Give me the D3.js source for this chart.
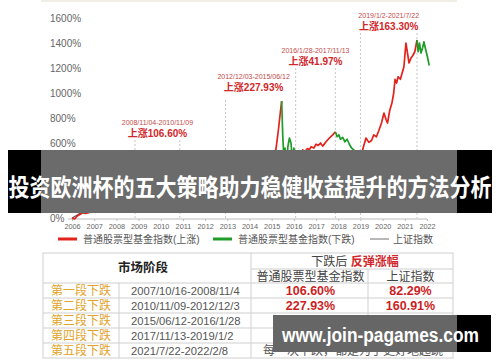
<!DOCTYPE html>
<html>
<head>
<meta charset="utf-8">
<script src="https://cdn.jsdelivr.net/npm/d3@7"></script>
<style>
  body { margin: 0; background: #fff; }
  svg { display: block; font-family: "Liberation Sans", "Noto Sans CJK SC", sans-serif; }
</style>
</head>
<body>
<div id="chart"></div>
<script>
// x tick labels and y ticks
const yearTicks = [2006, 2007, 2008, 2009, 2010, 2011, 2012, 2013, 2014, 2015, 2016, 2017, 2018, 2019, 2020, 2021, 2022];
const pctTicks = [0, 200, 400, 600, 800, 1000, 1200, 1400, 1600];

// 普通股票型基金指数, cumulative % since 2006
const fundDates = [2006.00, 2006.12, 2006.25, 2006.38, 2006.5, 2006.62, 2006.75, 2006.88, 2007.0, 2007.12, 2007.25, 2007.38, 2007.5, 2007.62, 2007.7, 2007.79,
  2007.86, 2007.93, 2008.0, 2008.1, 2008.2, 2008.3, 2008.42, 2008.55, 2008.65, 2008.75, 2008.84,
  2008.95, 2009.05, 2009.15, 2009.3, 2009.45, 2009.58, 2009.65, 2009.75, 2009.88, 2010.0, 2010.15, 2010.3, 2010.45, 2010.58, 2010.7, 2010.86,
  2010.95, 2011.05, 2011.2, 2011.35, 2011.5, 2011.62, 2011.75, 2011.88, 2012.0, 2012.15, 2012.3, 2012.45, 2012.6, 2012.75, 2012.92,
  2013.05, 2013.15, 2013.3, 2013.45, 2013.6, 2013.75, 2013.9, 2014.0, 2014.15, 2014.3, 2014.45, 2014.6, 2014.75, 2014.88, 2015.0, 2015.1, 2015.2, 2015.3, 2015.38, 2015.45,
  2015.5, 2015.55, 2015.6, 2015.66, 2015.73, 2015.8, 2015.87, 2015.93, 2016.0, 2016.08,
  2016.2, 2016.3, 2016.4, 2016.5, 2016.6, 2016.7, 2016.78, 2016.9, 2017.0, 2017.1, 2017.2, 2017.3, 2017.45, 2017.6, 2017.75, 2017.87,
  2017.95, 2018.03, 2018.1, 2018.2, 2018.3, 2018.4, 2018.5, 2018.6, 2018.7, 2018.8, 2018.87, 2018.93, 2019.0,
  2019.12, 2019.25, 2019.38, 2019.5, 2019.6, 2019.72, 2019.83, 2019.95, 2020.06, 2020.15, 2020.22, 2020.32, 2020.42, 2020.5, 2020.56, 2020.63, 2020.7, 2020.8, 2020.88, 2020.96, 2021.05, 2021.12, 2021.19, 2021.28, 2021.36, 2021.45, 2021.55,
  2021.6, 2021.66, 2021.73, 2021.8, 2021.86, 2021.95, 2022.02, 2022.1];
const fundValues = [0, -8, 18, 30, 48, 36, 42, 58, 80, 110, 140, 190, 250, 320, 380, 440,
  370, 420, 360, 330, 290, 300, 230, 190, 160, 150, 110,
  130, 150, 190, 230, 280, 320, 270, 280, 300, 290, 270, 240, 230, 260, 300, 345,
  310, 320, 335, 310, 300, 280, 250, 230, 215, 245, 250, 235, 215, 205, 195,
  240, 255, 240, 225, 260, 290, 275, 270, 260, 270, 265, 295, 320, 360, 420, 470, 560, 700, 830, 935,
  650, 480, 560, 420, 570, 640, 600, 470, 560, 460,
  505, 490, 545, 530, 555, 548, 570, 560, 590, 580, 600, 575, 610, 640, 665, 690,
  650, 665, 630, 645, 610, 630, 590, 560, 545, 490, 520, 465, 460,
  560, 640, 605, 620, 665, 650, 700, 760, 840, 790, 760, 860, 920, 1000, 1110, 1080, 1130, 1110, 1160, 1210, 1400, 1320, 1240, 1280, 1300, 1330, 1424,
  1330, 1400, 1320, 1360, 1410, 1340, 1290, 1220];
// rise / fall turning points (rise first)
const turnDates = [2007.79, 2008.84, 2010.86, 2012.92, 2015.45, 2016.08, 2017.87, 2019.0, 2021.55];

// 上证指数, cumulative % since 2006
const shDates = [2006.0, 2006.2, 2006.4, 2006.6, 2006.75, 2006.9, 2007.0, 2007.15, 2007.3, 2007.45, 2007.55, 2007.7, 2007.79, 2007.9, 2008.05, 2008.2, 2008.35, 2008.5, 2008.65, 2008.8, 2008.95,
  2009.1, 2009.3, 2009.55, 2009.65, 2009.9, 2010.1, 2010.35, 2010.5, 2010.7, 2010.86, 2011.0, 2011.3, 2011.5, 2011.7, 2011.95, 2012.2, 2012.45, 2012.7, 2012.92,
  2013.1, 2013.45, 2013.7, 2014.0, 2014.4, 2014.6, 2014.8, 2014.95, 2015.2, 2015.45, 2015.55, 2015.65, 2015.85, 2016.0, 2016.1, 2016.4, 2016.7, 2016.95,
  2017.3, 2017.5, 2017.87, 2018.05, 2018.2, 2018.45, 2018.7, 2018.9, 2019.0, 2019.25, 2019.4, 2019.7, 2020.0, 2020.2, 2020.45, 2020.55, 2020.9, 2021.1, 2021.3, 2021.55, 2021.8, 2022.1];
const shValues = [0, 20, 41, 38, 55, 81, 130, 170, 204, 253, 236, 378, 425, 319, 277, 199, 218, 136, 98, 48, 57,
  79, 114, 193, 133, 182, 163, 124, 107, 128, 163, 141, 158, 137, 107, 89, 108, 98, 77, 69,
  103, 72, 89, 77, 76, 91, 108, 178, 223, 345, 219, 176, 206, 158, 133, 150, 163, 167,
  171, 180, 193, 206, 171, 145, 139, 123, 112, 176, 145, 154, 163, 137, 154, 193, 193, 210, 197, 207, 206, 197];

// annotations
const annFrom = [2008.84, 2012.92, 2016.08, 2019.0];
const annTo = [2010.86, 2015.45, 2017.87, 2021.55];
const annRange = ["2008/11/04-2010/11/09", "2012/12/03-2015/06/12", "2016/1/28-2017/11/13", "2019/1/2-2021/7/22"];
const annGain = ["上涨106.60%", "上涨227.93%", "上涨41.97%", "上涨163.30%"];
const annLevel = [680, 1048, 1256, 1536];
const guideDates = [2008.84, 2010.86, 2012.92, 2016.08, 2017.87, 2019.0, 2021.55];
const guideLevel = [680, 680, 1000, 1256, 1256, 1536, 1536];

const legendLabels = ["普通股票型基金指数(上涨)", "普通股票型基金指数(下跌)", "上证指数"];

// table
const stageNames = ["第一段下跌", "第二段下跌", "第三段下跌", "第四段下跌", "第五段下跌"];
const stageDates = ["2007/10/16-2008/11/4", "2010/11/09-2012/12/3", "2015/06/12-2016/1/28", "2017/11/13-2019/1/2", "2021/7/22-2022/2/8"];
const fundRebound = ["106.60%", "227.93%", "41.97%", "163.30%"];
const shRebound = ["82.29%", "160.91%", "26.04%", "45.06%"];
const lastNote = "每一次下跌，都是为了更好地起跳";

const title = "投资欧洲杯的五大策略助力稳健收益提升的方法分析";
const watermark = "www.join-pagames.com";

const width = 500, height = 362;
const RED = "#e3221c", GREEN = "#1f9c28", GRAY = "#585858";

const x = d3.scaleLinear().domain([2006, 2022]).range([72, 427]);
const y = d3.scaleLinear().domain([0, 1600]).range([218, 18]);

const svg = d3.select("#chart").append("svg")
    .attr("width", width)
    .attr("height", height)
    .attr("viewBox", [0, 0, width, height]);

svg.append("rect").attr("width", width).attr("height", height).attr("fill", "#fff");
svg.append("rect").attr("x", 41).attr("width", 416).attr("height", 2).attr("fill", "#efede6");

// axes
svg.append("g")
    .attr("transform", `translate(50,0)`)
    .call(d3.axisLeft(y).tickValues(pctTicks).tickSize(0).tickFormat(d => d + "%"))
    .call(g => g.select(".domain").remove())
    .call(g => g.selectAll("text")
        .attr("x", 0)
        .attr("text-anchor", "start")
        .attr("fill", "#666")
        .attr("font-size", 10)
        .attr("font-family", "Liberation Sans, sans-serif"));

svg.append("g")
    .attr("transform", `translate(0,${y(0) + 1})`)
    .call(d3.axisBottom(x).tickValues(yearTicks).tickSize(2).tickPadding(3).tickFormat(d3.format("d")))
    .call(g => g.select(".domain").attr("stroke", "#bbb").attr("d", `M${x(2006) - 4},0H${x(2022)}`))
    .call(g => g.selectAll(".tick line").attr("stroke", "#bbb"))
    .call(g => g.selectAll("text")
        .attr("fill", "#666")
        .attr("font-size", 7.3)
        .attr("font-family", "Liberation Sans, sans-serif"));

// guide lines
svg.append("g")
    .selectAll("line")
    .data(guideDates)
    .join("line")
      .attr("x1", d => x(d))
      .attr("x2", d => x(d))
      .attr("y1", (d, i) => y(guideLevel[i]) + 7)
      .attr("y2", y(0))
      .attr("stroke", "#b8b8b8")
      .attr("stroke-width", 0.8)
      .attr("stroke-dasharray", "2,2");

// lines
const line = d3.line().x(d => x(d[0])).y(d => y(d[1]));

const shPoints = shDates.map((t, i) => [t, shValues[i]]);
svg.append("path")
    .datum(shPoints)
    .attr("fill", "none")
    .attr("stroke", GRAY)
    .attr("stroke-width", 1.3)
    .attr("stroke-linejoin", "round")
    .attr("d", line);

const fundPoints = fundDates.map((t, i) => [t, fundValues[i]]);
const bounds = [fundDates[0], ...turnDates, fundDates[fundDates.length - 1]];
const segments = d3.range(bounds.length - 1).map(k =>
  fundPoints.filter(p => p[0] >= bounds[k] && p[0] <= bounds[k + 1]));

svg.append("g")
    .selectAll("path")
    .data(segments)
    .join("path")
      .attr("fill", "none")
      .attr("stroke", (d, k) => k % 2 === 0 ? RED : GREEN)
      .attr("stroke-width", 1.7)
      .attr("stroke-linejoin", "round")
      .attr("d", line);

// annotations
const ann = svg.append("g").attr("text-anchor", "middle");
annRange.forEach((r, i) => {
  const cx = (x(annFrom[i]) + x(annTo[i])) / 2;
  ann.append("text")
      .attr("x", cx)
      .attr("y", y(annLevel[i]) - 11)
      .attr("dominant-baseline", "central")
      .attr("font-size", 7)
      .attr("fill", "#c34a48")
      .text(r);
  ann.append("text")
      .attr("x", cx)
      .attr("y", y(annLevel[i]))
      .attr("dominant-baseline", "central")
      .attr("font-size", 10)
      .attr("font-weight", "bold")
      .attr("fill", "#d1262a")
      .text(annGain[i]);
});

// legend
const legendX = [58, 213, 370];
const legendColors = [RED, GREEN, "#a0a0a0"];
const legend = svg.append("g")
    .selectAll("g")
    .data(legendLabels)
    .join("g")
      .attr("transform", (d, i) => `translate(${legendX[i]},239)`);
legend.append("line")
    .attr("x2", 19)
    .attr("stroke", (d, i) => legendColors[i])
    .attr("stroke-width", (d, i) => i === 2 ? 1.5 : 3);
legend.append("text")
    .attr("x", (d, i) => i === 2 ? 23 : 25)
    .attr("dominant-baseline", "central")
    .attr("font-size", 10)
    .attr("fill", "#555")
    .text(d => d);

// table
const cols = [43, 119, 251, 368, 453];
const tableTop = 253, tableMid = 269, headBottom = 283, rowH = 15;
const tableBottom = headBottom + rowH * stageNames.length;
const rowY = i => headBottom + rowH * i;
const table = svg.append("g").attr("stroke", "#cfcfcf").attr("stroke-width", 1);

table.append("rect").attr("x", cols[0]).attr("y", tableTop)
    .attr("width", cols[4] - cols[0]).attr("height", tableBottom - tableTop).attr("fill", "none");
table.append("line").attr("x1", cols[1]).attr("x2", cols[1]).attr("y1", headBottom).attr("y2", tableBottom);
table.append("line").attr("x1", cols[2]).attr("x2", cols[2]).attr("y1", tableTop).attr("y2", tableBottom);
table.append("line").attr("x1", cols[3]).attr("x2", cols[3]).attr("y1", tableMid).attr("y2", rowY(4));
table.append("line").attr("x1", cols[2]).attr("x2", cols[4]).attr("y1", tableMid).attr("y2", tableMid);
table.selectAll(".row")
    .data(d3.range(stageNames.length))
    .join("line")
      .attr("x1", cols[0]).attr("x2", cols[4])
      .attr("y1", i => rowY(i)).attr("y2", i => rowY(i));

const cells = svg.append("g").attr("text-anchor", "middle").attr("dominant-baseline", "central");
cells.append("text")
    .attr("x", (cols[0] + cols[2]) / 2 - 4).attr("y", (tableTop + headBottom) / 2)
    .attr("font-size", 12.5).attr("font-weight", "bold").attr("fill", "#222")
    .text("市场阶段");
const h = cells.append("text")
    .attr("x", (cols[2] + cols[4]) / 2 + 3).attr("y", (tableTop + tableMid) / 2 + 1)
    .attr("font-size", 12);
h.append("tspan").attr("fill", "#444").text("下跌后 ");
h.append("tspan").attr("fill", "#d1262a").attr("font-weight", "bold").text("反弹涨幅");
cells.append("text")
    .attr("x", (cols[2] + cols[3]) / 2 + 1).attr("y", (tableMid + headBottom) / 2 + 1)
    .attr("font-size", 12).attr("fill", "#444").text("普通股票型基金指数");
cells.append("text")
    .attr("x", (cols[3] + cols[4]) / 2).attr("y", (tableMid + headBottom) / 2 + 1)
    .attr("font-size", 12).attr("fill", "#444").text("上证指数");

cells.selectAll(".stage")
    .data(stageNames)
    .join("text")
      .attr("x", (cols[0] + cols[1]) / 2)
      .attr("y", (d, i) => rowY(i) + rowH / 2)
      .attr("font-size", 12)
      .attr("fill", "#e2a32a")
      .text(d => d);
cells.selectAll(".date")
    .data(stageDates)
    .join("text")
      .attr("x", cols[1] + 12)
      .attr("y", (d, i) => rowY(i) + rowH / 2)
      .attr("text-anchor", "start")
      .attr("font-size", 11.2)
      .attr("fill", "#555")
      .text(d => d);
cells.selectAll(".fund")
    .data(fundRebound)
    .join("text")
      .attr("x", (cols[2] + cols[3]) / 2 + 1)
      .attr("y", (d, i) => rowY(i) + rowH / 2)
      .attr("font-size", 12.5).attr("font-weight", "bold")
      .attr("fill", "#cc1f25")
      .text(d => d);
cells.selectAll(".sh")
    .data(shRebound)
    .join("text")
      .attr("x", (cols[3] + cols[4]) / 2)
      .attr("y", (d, i) => rowY(i) + rowH / 2)
      .attr("font-size", 12.5).attr("font-weight", "bold")
      .attr("fill", "#cc1f25")
      .text(d => d);
cells.append("text")
    .attr("x", (cols[2] + cols[4]) / 2 + 1)
    .attr("y", rowY(4) + rowH / 2)
    .attr("font-size", 12).attr("fill", "#555")
    .text(lastNote);

// title banner
svg.append("rect").attr("x", 8).attr("y", 150).attr("width", 484).attr("height", 63).attr("fill", "#000");
svg.append("rect").attr("x", 41).attr("y", 150).attr("width", 416).attr("height", 63).attr("fill", "#fff").attr("opacity", 0.42);
svg.append("text")
    .attr("x", 250).attr("y", 185)
    .attr("text-anchor", "middle")
    .attr("dominant-baseline", "central")
    .attr("font-family", "Noto Sans CJK SC, sans-serif")
    .attr("font-size", 24).attr("font-weight", "bold")
    .attr("fill", "#fff")
    .attr("textLength", 483).attr("lengthAdjust", "spacingAndGlyphs")
    .text(title);

// watermark
svg.append("rect").attr("x", 273).attr("y", 315).attr("width", 218).attr("height", 37).attr("fill", "#000");
svg.append("rect").attr("x", 273).attr("y", 315).attr("width", 184).attr("height", 37).attr("fill", "#fff").attr("opacity", 0.4);
svg.append("text")
    .attr("x", 380.5).attr("y", 342)
    .attr("text-anchor", "middle")
    .attr("font-family", "Liberation Sans, sans-serif")
    .attr("font-size", 20).attr("font-weight", "bold")
    .attr("fill", "#fff")
    .attr("textLength", 197).attr("lengthAdjust", "spacingAndGlyphs")
    .text(watermark);
</script>
</body>
</html>
